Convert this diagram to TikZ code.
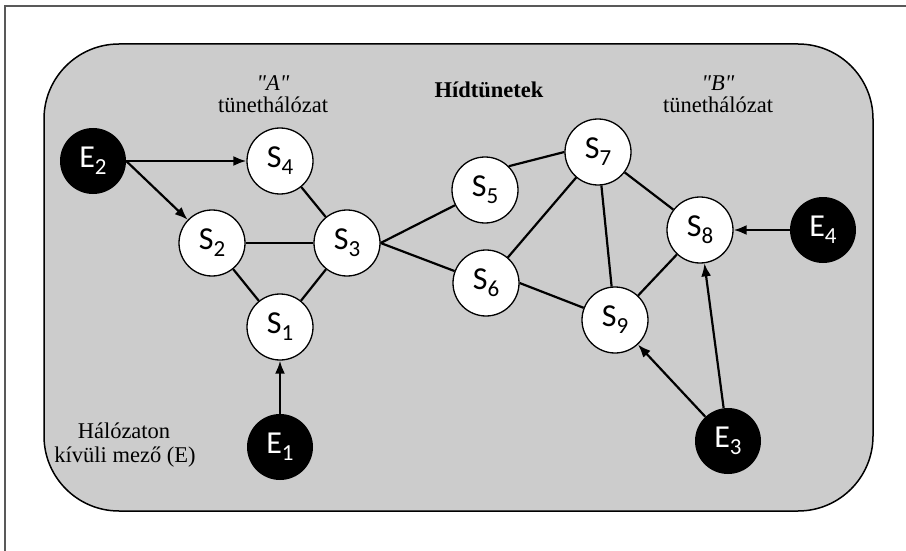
\documentclass[tikz,border=0pt]{standalone}
\usepackage{fontspec}
\setmainfont{Liberation Serif}
\newfontfamily\qfont{Liberation Serif}
\newfontfamily\lblfont{Carlito}
\usetikzlibrary{arrows.meta}
\newcommand{\nlbl}[2]{{\lblfont\fontsize{32}{32}\selectfont #1\raisebox{-7pt}{\fontsize{23}{23}\selectfont #2}}}
\begin{document}
\begin{tikzpicture}[x=1pt,y=-1pt,
  snode/.style={circle,draw=black,line width=1.3pt,fill=white,minimum size=66pt,inner sep=0pt},
  enode/.style={circle,fill=black,minimum size=66pt,inner sep=0pt,text=white},
  link/.style={line width=2.2pt},
  arr/.style={line width=2.2pt,-{Latex[length=13pt,width=10pt]}},
  lbl/.style={font=\fontsize{22.5}{26}\selectfont,anchor=base,inner sep=0pt}]
\useasboundingbox (0,0) rectangle (906,551);
\fill[white] (0,0) rectangle (906,551);
\draw[line width=1.5pt, black!65] (906,6) -- (5,6) -- (5,551);
\draw[line width=1.5pt, fill=black!20, rounded corners=75pt] (44,44) rectangle (873,511);
% texts
\node[lbl] (ta1) at (273,91) {{\qfont\itshape "A"}};
\node[lbl] (ta2) at (273,113) {tünethálózat};
\node[lbl] (tb1) at (718,91) {{\qfont\itshape "B"}};
\node[lbl] (tb2) at (718,113) {tünethálózat};
\node[lbl] (th) at (489,98) {\textbf{Hídtünetek}};
\node[lbl] (te1) at (124,438) {Hálózaton};
\node[lbl] (te2) at (125,462) {kívüli mező (E)};
% nodes
\node[enode] (E2) at (93,161) {\nlbl{E}{2}};
\node[snode] (S4) at (280,161) {\nlbl{S}{4}};
\node[snode] (S2) at (212,243) {\nlbl{S}{2}};
\node[snode] (S3) at (347,243) {\nlbl{S}{3}};
\node[snode] (S1) at (280,327) {\nlbl{S}{1}};
\node[enode] (E1) at (280,447) {\nlbl{E}{1}};
\node[snode] (S5) at (485,190) {\nlbl{S}{5}};
\node[snode] (S7) at (598,152) {\nlbl{S}{7}};
\node[snode] (S6) at (486,283) {\nlbl{S}{6}};
\node[snode] (S8) at (700,230) {\nlbl{S}{8}};
\node[enode] (E4) at (823,230) {\nlbl{E}{4}};
\node[snode] (S9) at (615,320) {\nlbl{S}{9}};
\node[enode] (E3) at (728,441) {\nlbl{E}{3}};
% links
\draw[arr] (E2.east) -- (S4.west);
\draw[arr] (E2.east) -- (S2);
\draw[link] (S4) -- (S3);
\draw[link] (S2) -- (S3);
\draw[link] (S2) -- (S1);
\draw[link] (S3) -- (S1);
\draw[arr] (E1) -- (S1);
\draw[link] (S3.east) -- (S5);
\draw[link] (S3.east) -- (S6);
\draw[link] (S5.north east) -- (S7.west);
\draw[link] (S6) -- (S7);
\draw[link] (S7) -- (S9);
\draw[link] (S7) -- (S8);
\draw[link] (S6.east) -- (S9);
\draw[link] (S9) -- (S8);
\draw[arr] (E4) -- (S8);
\draw[arr] (E3) -- (S9);
\draw[arr] (E3) -- (S8);
\end{tikzpicture}
\end{document}
